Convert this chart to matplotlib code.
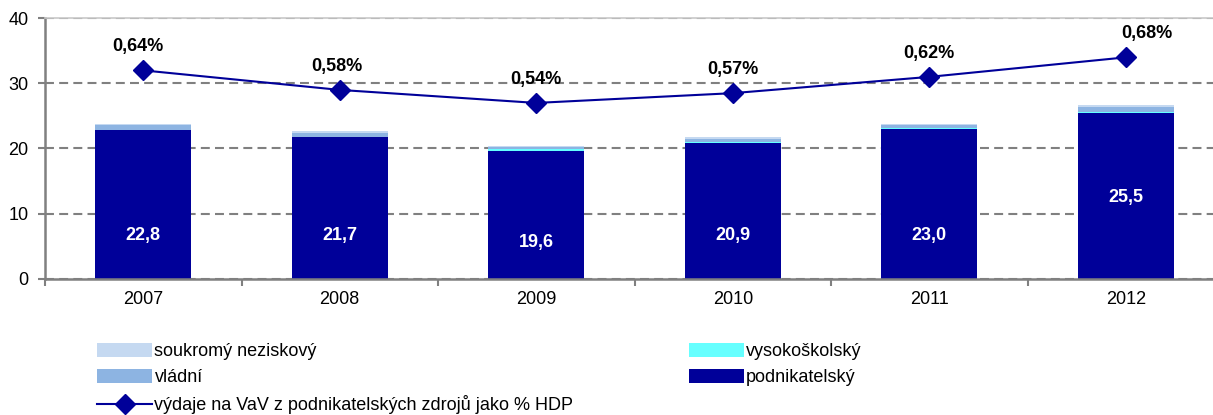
import numpy as np
import matplotlib
matplotlib.use('Agg')
import matplotlib.pyplot as plt

plt.rcParams['font.family'] = ['Liberation Sans', 'DejaVu Sans']

years = ['2007', '2008', '2009', '2010', '2011', '2012']
podnikatelsky = [22.8, 21.7, 19.6, 20.9, 23.0, 25.5]
vysokoskolsky = [0.1, 0.1, 0.35, 0.1, 0.1, 0.1]
vladni = [0.7, 0.6, 0.25, 0.5, 0.5, 0.8]
soukromy = [0.2, 0.3, 0.2, 0.2, 0.2, 0.3]
hdp_pct = [0.64, 0.58, 0.54, 0.57, 0.62, 0.68]
bar_labels = ['22,8', '21,7', '19,6', '20,9', '23,0', '25,5']
pct_labels = ['0,64%', '0,58%', '0,54%', '0,57%', '0,62%', '0,68%']

C_POD = '#000099'
C_VYS = '#66FFFF'
C_VLA = '#8DB4E2'
C_SOU = '#C5D9F1'
FS = 13

W, H = 1213, 415
fig = plt.figure(figsize=(W / 100, H / 100), dpi=100)
ax = fig.add_axes([45 / W, (H - 278.7) / H, 6 * 196.5 / W, (278.7 - 18.3) / H])

x = np.arange(len(years))
wd = 0.49
b0 = np.zeros(len(years))
ax.bar(x, podnikatelsky, wd, bottom=b0, color=C_POD, label='podnikatelský', zorder=2)
b0 += podnikatelsky
ax.bar(x, vysokoskolsky, wd, bottom=b0, color=C_VYS, label='vysokoškolský', zorder=2)
b0 += vysokoskolsky
ax.bar(x, vladni, wd, bottom=b0, color=C_VLA, label='vládní', zorder=2)
b0 += vladni
ax.bar(x, soukromy, wd, bottom=b0, color=C_SOU, label='soukromý neziskový', zorder=2)

# popisky uvnitř sloupců (Excel je tam má různě vysoko)
lab_y = [6.6, 6.6, 5.5, 6.6, 6.6, 12.4]
for i in range(len(years)):
    ax.text(x[i], lab_y[i], bar_labels[i], ha='center', va='center',
            color='white', fontsize=FS, fontweight='bold', zorder=4)

ax.set_xlim(-0.5, len(years) - 0.5)
ax.set_ylim(0, 40)
ax.set_yticks([0, 10, 20, 30, 40])
ax.set_xticks(x)
ax.set_xticklabels(years)
ax.set_xticks(np.arange(-0.5, len(years)), minor=True)
ax.tick_params(axis='x', which='major', length=0, labelsize=FS, pad=9)
ax.tick_params(axis='x', which='minor', length=5, width=1.5, color='#808080', direction='out')
ax.tick_params(axis='y', length=5, width=1.5, color='#808080', labelsize=FS, pad=7)
ax.yaxis.grid(True, color='#808080', lw=1.5, ls=(0, (4.3, 2.5)), zorder=0)
ax.set_axisbelow(True)
for s in ['left', 'bottom']:
    ax.spines[s].set_color('#808080')
    ax.spines[s].set_linewidth(1.8)
ax.spines['top'].set_color('#C8C8C8')
ax.spines['top'].set_linewidth(1.2)
ax.spines['right'].set_visible(False)

ax2 = ax.twinx()
ax2.set_ylim(0, 0.8)
ax2.set_axis_off()
ln, = ax2.plot(x, hdp_pct, color=C_POD, lw=1.5, marker='D', ms=10, zorder=5,
               label='výdaje na VaV z podnikatelských zdrojů jako % HDP')
dx = [-5, -3, 0, 0, 0, 21]
for i in range(len(years)):
    ax2.annotate(pct_labels[i], (x[i], hdp_pct[i]), xytext=(dx[i] * 0.72, 17),
                 textcoords='offset points', ha='center', va='center',
                 fontsize=FS, fontweight='bold', color='black')

hs, ls = ax.get_legend_handles_labels()
hd = dict(zip(ls, hs))
handles = [hd['soukromý neziskový'], hd['vládní'], ln, hd['vysokoškolský'], hd['podnikatelský']]
labels = ['soukromý neziskový', 'vládní', ln.get_label(), 'vysokoškolský', 'podnikatelský']
fig.legend(handles, labels, ncol=2, loc='upper left',
           bbox_to_anchor=(90 / W, 1 - 336 / H), frameon=False, fontsize=FS,
           handlelength=3.05, handleheight=0.75, handletextpad=0.12,
           labelspacing=0.5, columnspacing=6.4, borderaxespad=0)

fig.savefig('out.png', dpi=100)
